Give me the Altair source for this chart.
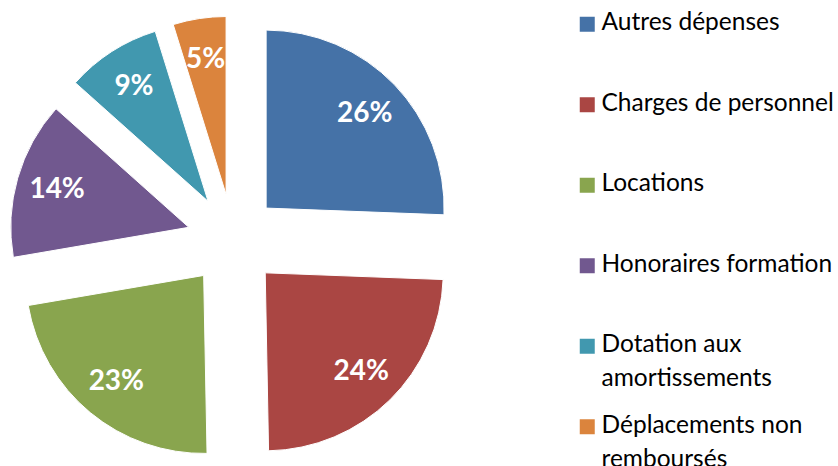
import altair as alt
import pandas as pd

categories = [
    "Autres dépenses",
    "Charges de personnel",
    "Locations",
    "Honoraires formation",
    "Dotation aux amortissements",
    "Déplacements non remboursés",
]
shares = [25.6, 24.1, 22.6, 14.3, 8.6, 4.8]
colors = ["#4572A7", "#AA4643", "#89A54E", "#71588F", "#4198AF", "#DB843D"]
legend_lines = {
    "Dotation aux amortissements": ["Dotation aux", "amortissements"],
    "Déplacements non remboursés": ["Déplacements non", "remboursés"],
}

df = pd.DataFrame({"cat": categories, "share": shares, "order": list(range(len(categories)))})

CX, CY, R, EXPLODE, LABEL_R = 233, 240, 178, 46, 137

label_expr = " : ".join(
    [f"datum.label == '{k}' ? ['{v[0]}', '{v[1]}']" for k, v in legend_lines.items()]
    + ["datum.label"]
)

base = (
    alt.Chart(df)
    .transform_joinaggregate(total="sum(share)")
    .transform_window(cum="sum(share)", sort=[alt.SortField("order")], frame=[None, 0])
    .transform_calculate(a0="(datum.cum - datum.share) / datum.total * 2 * PI")
    .transform_calculate(a1="datum.cum / datum.total * 2 * PI")
    .transform_calculate(mid="(datum.a0 + datum.a1) / 2")
    .transform_calculate(
        px=f"{CX} + {EXPLODE} * sin(datum.mid)",
        py=f"{CY} - {EXPLODE} * cos(datum.mid)",
        lx=f"{CX} + {EXPLODE + LABEL_R} * sin(datum.mid)",
        ly=f"{CY} - {EXPLODE + LABEL_R} * cos(datum.mid)",
        pct="format(datum.share / datum.total, '.0%')",
    )
)

arcs = base.mark_arc(outerRadius=R, stroke="white", strokeWidth=1).encode(
    theta=alt.Theta("a0:Q", scale=None, stack=None),
    theta2="a1:Q",
    x=alt.X("px:Q", scale=None),
    y=alt.Y("py:Q", scale=None),
    color=alt.Color(
        "cat:N",
        scale=alt.Scale(domain=categories, range=colors),
        sort=categories,
        legend=alt.Legend(
            title=None,
            orient="none",
            legendX=575,
            legendY=12,
            padding=0,
            symbolType="square",
            symbolSize=225,
            symbolStrokeWidth=0,
            labelFont="Lato",
            labelFontSize=24.5,
            labelColor="black",
            labelOffset=2,
            labelLimit=400,
            labelBaseline="alphabetic",
            gridAlign="all",
            rowPadding=21.5,
            labelExpr=label_expr,
        ),
    ),
)

labels = base.mark_text(
    font="Lato", fontSize=28, fontWeight="bold", color="white", align="center", baseline="middle", dy=1
).encode(
    x=alt.X("lx:Q", scale=None),
    y=alt.Y("ly:Q", scale=None),
    text="pct:N",
)

chart = (
    alt.layer(arcs, labels)
    .properties(width=838, height=466, padding=0, autosize="none", background="white")
    .configure(style={"guide-label": {"lineHeight": 34, "dy": 6}})
    .configure_view(stroke=None)
)

chart.save("out.html", embed_options={"renderer": "svg", "actions": False})
